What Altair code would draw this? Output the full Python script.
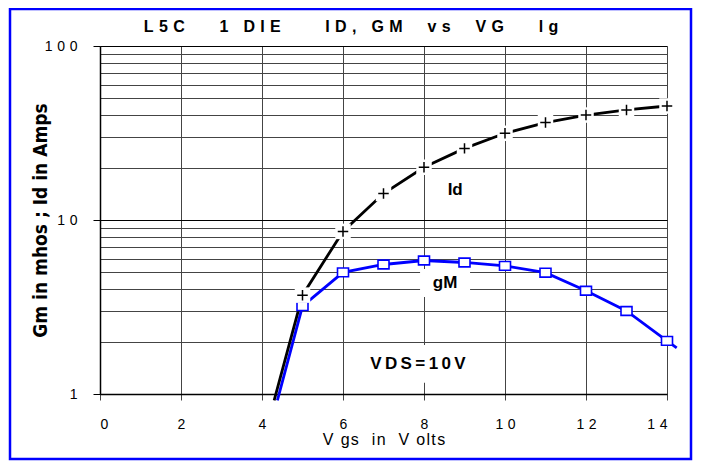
import altair as alt
import pandas as pd

# ---- data ----
id_vgs = [4.30, 5, 6, 7, 8, 9, 10, 11, 12, 13, 14]
id_amps = [0.92, 3.7, 8.6, 14.2, 20.1, 25.8, 31.5, 36.3, 40.1, 42.9, 45.2]
gm_vgs = [4.38, 5, 6, 7, 8, 9, 10, 11, 12, 13, 14, 14.24]
gm_mhos = [0.92, 3.2, 5.0, 5.55, 5.85, 5.7, 5.45, 4.98, 3.92, 3.0, 2.02, 1.84]
x_ticks = [0, 2, 4, 6, 8, 10, 12, 14]
y_grid = [1, 2, 3, 4, 5, 6, 7, 8, 9, 10, 20, 30, 40, 50, 60, 70, 80, 90, 100]
title_text = "L5C   1 DIE    ID, GM  vs  VG   lg"
y_title = "Gm in  mhos ; Id in Amps"
x_title = "V gs  in  V olts"
note_text = ["Id", "gM", "VDS=10V"]
note_x = [8.77, 8.52, 7.85]
note_y = [14.9, 4.34, 1.49]

SP = "\u2004"   # wide letter spacing
TS = "\u2009"   # thin letter spacing
HS = "\u200a"   # hair spacing
NB = "\u00a0"


def spaced(s, sep=SP):
    return sep.join(s.replace(" ", NB))


id_df = pd.DataFrame({"vgs": id_vgs, "val": id_amps})
gm_df = pd.DataFrame({"vgs": gm_vgs, "val": gm_mhos})
note_df = pd.DataFrame({"vgs": note_x, "val": note_y, "txt": note_text})

FONT = "Liberation Sans"
NARROW = "'Liberation Sans Narrow', 'DejaVu Sans Condensed', 'Liberation Sans', sans-serif"
W, H = 567, 348

major_test = "datum.value == 1 || datum.value == 10 || datum.value == 100"

xs = alt.Scale(domain=[0, 14], nice=False, zero=False)
ys = alt.Scale(type="log", domain=[1, 100], nice=False)

xaxis = alt.Axis(
    values=x_ticks, grid=True, gridColor="#444", gridWidth=1,
    domainColor="#000", domainWidth=1.5, tickColor="#444", tickSize=6,
    labelFont=FONT, labelFontSize=14, labelColor="#000", labelPadding=17,
    labelExpr=f"join(split(datum.label, ''), '{SP}')",
    title=spaced(x_title, HS), titleFont=FONT, titleFontSize=16, titleFontWeight="normal",
    titleColor="#000", titleX=W / 2, titleY=45, titleBaseline="middle",
)
yaxis = alt.Axis(
    values=y_grid, grid=True,
    gridColor={"condition": {"test": major_test, "value": "#000"}, "value": "#444"},
    gridWidth=1, domainColor="#000", domainWidth=1.5,
    tickColor={"condition": {"test": major_test, "value": "#000"}, "value": "transparent"},
    tickSize=7, labelOverlap=False,
    labelFont=FONT, labelFontSize=14, labelColor="#000", labelPadding=16,
    labelExpr=(f"(datum.value == 1 || datum.value == 10 || datum.value == 100) ? "
               f"join(split(datum.label, ''), '{SP}') : ''"),
    title=y_title, titleFont=NARROW, titleFontSize=19,
    titleFontWeight="bold", titleColor="#000", titleAngle=-90,
    titleAlign="center", titleBaseline="middle", titleX=-60, titleY=H / 2,
)

X = alt.X("vgs:Q", scale=xs, axis=xaxis)
Y = alt.Y("val:Q", scale=ys, axis=yaxis)

gm_line = alt.Chart(gm_df).mark_line(color="#0000ff", strokeWidth=2.8, clip=False).encode(x=X, y=Y, order="vgs:Q")
id_line = alt.Chart(id_df).mark_line(color="#000", strokeWidth=2.8, clip=False).encode(x=X, y=Y, order="vgs:Q")

gm_marks = alt.Chart(gm_df).transform_filter("datum.vgs >= 5 && datum.vgs <= 14").mark_point(
    shape="M-1,-0.8H1V0.8H-1Z", size=121, filled=True, fill="#fff",
    stroke="#0000ff", strokeWidth=1.6, opacity=1,
).encode(x=X, y=Y)

id_bg = alt.Chart(id_df).transform_filter("datum.vgs >= 5").mark_point(
    shape="square", size=240, filled=True, fill="#fff", strokeWidth=0, opacity=1,
).encode(x=X, y=Y)
id_marks = alt.Chart(id_df).transform_filter("datum.vgs >= 5").mark_point(
    shape="M-1,0H1M0,-1V1", size=110, filled=False, stroke="#000",
    strokeWidth=1.5, opacity=1,
).encode(x=X, y=Y)

gm_box = alt.Chart(note_df).transform_filter("datum.txt == 'gM'").mark_point(
    shape="M-1,-0.56H1V0.56H-1Z", size=2500, filled=True, fill="#fff",
    strokeWidth=0, opacity=1,
).encode(x=X, y=Y)
vds_box = alt.Chart(note_df).transform_filter("datum.txt == 'VDS=10V'").mark_point(
    shape="M-1,-0.29H1V0.29H-1Z", size=16900, filled=True, fill="#fff",
    strokeWidth=0, opacity=1,
).encode(x=X, y=Y)

notes = alt.Chart(note_df).transform_calculate(
    lab=f"datum.txt == 'VDS=10V' ? join(split(datum.txt, ''), '{TS}') : datum.txt"
).mark_text(
    font=FONT, fontWeight="bold", fontSize=17, color="#000",
    align="center", baseline="middle",
).encode(x=X, y=Y, text="lab:N")

title = alt.Chart(pd.DataFrame({"t": [spaced(title_text)]})).mark_text(
    font=FONT, fontWeight="bold", fontSize=16, color="#000",
    align="center", baseline="middle",
).encode(x=alt.value(251), y=alt.value(-19), text="t:N")

border = alt.Chart(pd.DataFrame({"t": [0]})).mark_rect(
    fillOpacity=0, stroke="#0000ff", strokeWidth=2.5,
).encode(x=alt.value(-90), x2=alt.value(591), y=alt.value(-37), y2=alt.value(413))

chart = alt.layer(
    gm_line, id_line, gm_marks, id_bg, id_marks, gm_box, vds_box, notes, title, border
).properties(
    width=W, height=H,
    autosize=alt.AutoSizeParams(type="none"),
    padding={"left": 92, "top": 38, "right": 26, "bottom": 68},
).configure_view(stroke="#000", strokeWidth=1).configure(background="#fff")

chart.save("out.html", embed_options={"renderer": "svg", "actions": False})
